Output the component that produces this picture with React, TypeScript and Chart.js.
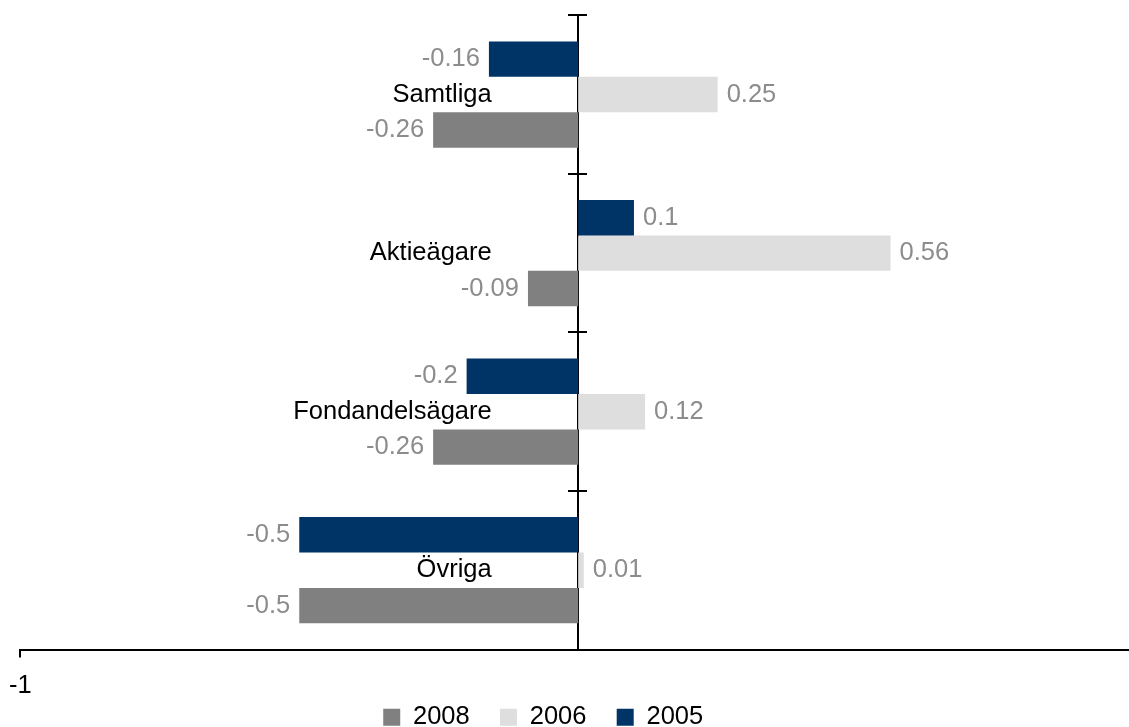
import React, { useEffect, useRef } from "react";
import { Chart, registerables } from "chart.js";

Chart.register(...registerables);

const categories = ["Samtliga", "Aktieägare", "Fondandelsägare", "Övriga"];
const seriesNames = ["2005", "2006", "2008"];
const values2005 = [-0.16, 0.1, -0.2, -0.5];
const values2006 = [0.25, 0.56, 0.12, 0.01];
const values2008 = [-0.26, -0.09, -0.26, -0.5];
const seriesColors = ["#003366", "#dedede", "#808080"];
const xTickValues = [-1];

const FAMILY = "'Liberation Sans', Arial, sans-serif";
const FONT_SIZE = 25.5;

const dataLabelsPlugin = {
  id: "dataLabels",
  afterDatasetsDraw(chart: any) {
    const ctx = chart.ctx;
    ctx.save();
    ctx.font = `${FONT_SIZE}px ${FAMILY}`;
    ctx.fillStyle = "#8c8c8c";
    ctx.textBaseline = "middle";
    chart.data.datasets.forEach((ds: any, di: number) => {
      const meta = chart.getDatasetMeta(di);
      meta.data.forEach((bar: any, i: number) => {
        const v = ds.data[i] as number;
        const neg = v < 0;
        ctx.textAlign = neg ? "right" : "left";
        ctx.fillText(String(v), bar.x + (neg ? -9 : 9), bar.y);
      });
    });
    ctx.restore();
  },
};

export default function App() {
  const ref = useRef<HTMLCanvasElement>(null);

  useEffect(() => {
    const font = { family: FAMILY, size: FONT_SIZE };
    const seriesValues = [values2005, values2006, values2008];
    const chart = new Chart(ref.current as HTMLCanvasElement, {
      type: "bar",
      data: {
        labels: categories,
        datasets: seriesNames.map((name, i) => ({
          label: name,
          data: seriesValues[i],
          backgroundColor: seriesColors[i],
          borderWidth: 0,
          xAxisID: "x",
          yAxisID: "y",
          categoryPercentage: 0.67,
          barPercentage: 1,
        })),
      },
      options: {
        indexAxis: "y",
        responsive: false,
        animation: false,
        events: [],
        layout: { padding: 0 },
        scales: {
          x: {
            type: "linear",
            min: -1,
            max: 1,
            afterBuildTicks: (s: any) => {
              s.ticks = xTickValues.map((v) => ({ value: v }));
            },
            afterFit: (s: any) => {
              s.height = 46;
            },
            grid: {
              drawOnChartArea: false,
              drawTicks: true,
              tickLength: 8,
              color: "#000",
              lineWidth: 2,
            },
            border: { display: true, color: "#000", width: 2 },
            ticks: {
              font: { family: FAMILY, size: FONT_SIZE, lineHeight: 1.5 },
              color: "#000",
              padding: 9,
              autoSkip: false,
              maxRotation: 0,
            },
          },
          y: {
            type: "category",
            position: { x: -0.155 },
            offset: true,
            grid: { display: false, drawTicks: false, offset: true },
            border: { display: false },
            ticks: { font, color: "#000", padding: 0 },
          },
          yL: {
            type: "category",
            axis: "y",
            position: { x: 0 },
            offset: true,
            grid: {
              offset: true,
              drawOnChartArea: false,
              drawTicks: true,
              tickLength: 9,
              color: "#000",
              lineWidth: 2,
            },
            border: { display: true, color: "#000", width: 2 },
            ticks: { display: false },
          },
          yR: {
            type: "category",
            axis: "y",
            position: { x: 0 },
            offset: true,
            grid: {
              offset: true,
              drawOnChartArea: false,
              drawTicks: true,
              tickLength: -9,
              color: "#000",
              lineWidth: 2,
            },
            border: { display: false },
            ticks: { display: false },
          },
        } as any,
        plugins: {
          tooltip: { enabled: false },
          legend: {
            position: "bottom",
            reverse: true,
            labels: {
              boxWidth: 17,
              boxHeight: 17,
              padding: 9,
              color: "#000",
              font,
              generateLabels: (c: any) =>
                (Chart.defaults.plugins.legend.labels as any)
                  .generateLabels(c)
                  .map((item: any) => ({
                    ...item,
                    text: item.text + (item.datasetIndex === 0 ? "       " : "   "),
                  })),
            },
          },
        },
      } as any,
      plugins: [dataLabelsPlugin],
    });
    return () => chart.destroy();
  }, []);

  return (
    <div
      style={{
        position: "fixed",
        left: 0,
        top: 0,
        width: 1129,
        height: 727,
        overflow: "hidden",
        background: "#fff",
      }}
    >
      <canvas ref={ref} width={1136} height={740} style={{ display: "block" }} />
    </div>
  );
}
